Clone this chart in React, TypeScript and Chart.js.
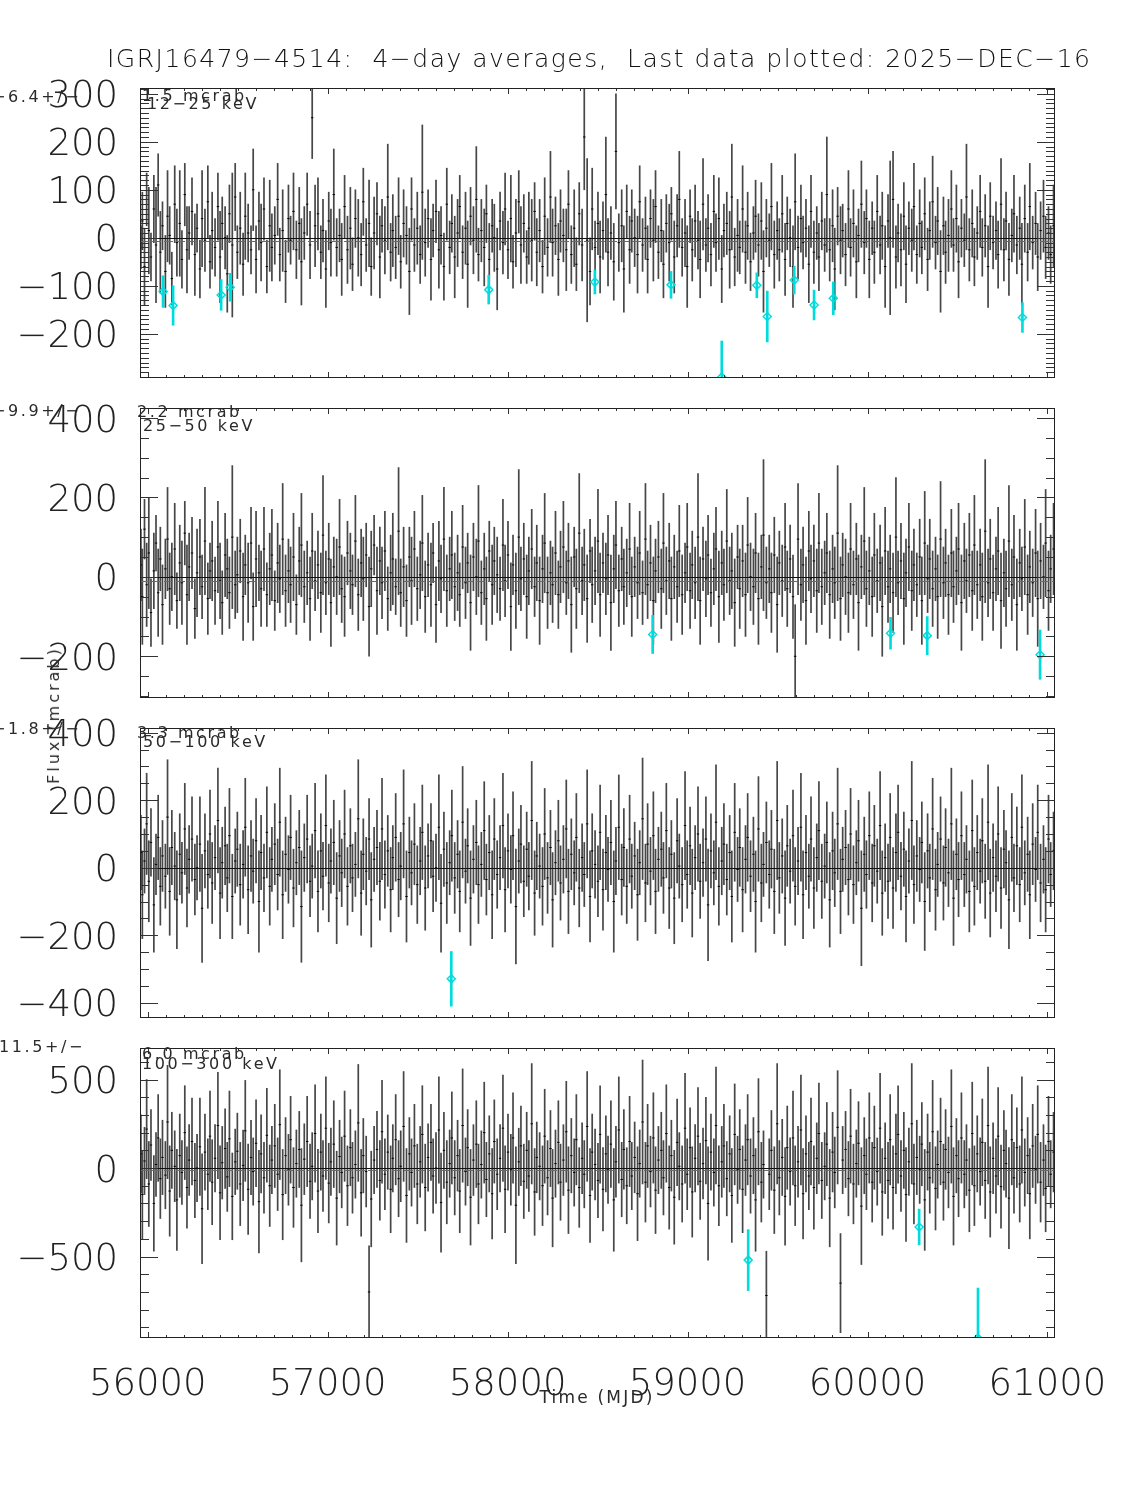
import React, { useEffect, useRef } from "react";
import { Chart, registerables } from "chart.js";

Chart.register(...registerables);

// ---------------- data ----------------
// bin centres (MJD), shared by the four energy bands
const mjd = [
  55962, 55970, 55982, 55994, 56006, 56018, 56034, 56046, 56058, 56070, 56082, 56098, 56110, 56122, 56134, 56150, 56162, 56178, 56190, 56206,
  56218, 56230, 56246, 56262, 56274, 56290, 56302, 56318, 56334, 56346, 56358, 56374, 56390, 56402, 56414, 56430, 56442, 56454, 56470, 56486, 56498,
  56514, 56530, 56542, 56558, 56574, 56586, 56602, 56618, 56630, 56646, 56662, 56678, 56690, 56706, 56722, 56734, 56750, 56766, 56782, 56794,
  56810, 56826, 56842, 56854, 56870, 56886, 56902, 56914, 56930, 56946, 56962, 56974, 56990,
  57006, 57018, 57034, 57050, 57066, 57078, 57094, 57110, 57126, 57138, 57154, 57170, 57186, 57198, 57214, 57230, 57242, 57258, 57274, 57290,
  57302, 57318, 57334, 57350, 57362, 57378, 57394, 57406, 57422, 57438, 57454, 57466, 57482, 57498,
  57514, 57526, 57542, 57558, 57574, 57586, 57602, 57618, 57630, 57646, 57662, 57678, 57690, 57706, 57722, 57734, 57750, 57766, 57778, 57794,
  57810, 57826, 57838, 57854, 57870, 57882, 57898, 57914, 57926, 57942, 57958, 57974, 57986,
  58002, 58018, 58030, 58046, 58062, 58074, 58090, 58106, 58118, 58134, 58150, 58162, 58178, 58194, 58206, 58222, 58238, 58250, 58266, 58282,
  58294, 58310, 58326, 58338, 58354, 58370, 58382, 58398, 58414, 58426, 58442, 58458, 58470, 58486,
  58502, 58514, 58530, 58546, 58558, 58574, 58590, 58602, 58618, 58634, 58646, 58662, 58678, 58690, 58706, 58722, 58734, 58750, 58766, 58778,
  58794, 58810, 58822, 58838, 58854, 58866, 58882, 58898, 58910, 58926, 58942, 58954, 58970, 58986, 58998,
  59014, 59026, 59042, 59058, 59070, 59086, 59102, 59114, 59130, 59146, 59158, 59174, 59190, 59202, 59218, 59234, 59246, 59262, 59278, 59290,
  59306, 59322, 59334, 59350, 59366, 59378, 59394, 59410, 59422, 59438, 59454, 59466, 59482, 59498,
  59510, 59526, 59542, 59554, 59570, 59586, 59598, 59614, 59630, 59642, 59658, 59674, 59686, 59702, 59718, 59730, 59746, 59762, 59774, 59790,
  59806, 59818, 59834, 59850, 59862, 59878, 59894, 59906, 59922, 59938, 59950, 59966, 59982, 59994,
  60010, 60026, 60038, 60054, 60070, 60082, 60098, 60114, 60126, 60142, 60158, 60170, 60186, 60202, 60214, 60230, 60246, 60258, 60274, 60290,
  60302, 60318, 60334, 60346, 60362, 60378, 60390, 60406, 60422, 60434, 60450, 60466, 60478, 60494,
  60506, 60522, 60538, 60550, 60566, 60582, 60594, 60610, 60626, 60638, 60654, 60670, 60682, 60698, 60714, 60726, 60742, 60758, 60770, 60786,
  60802, 60814, 60830, 60846, 60858, 60874, 60890, 60902, 60918, 60934, 60946, 60962, 60978, 60990, 61006, 61018, 61034,
];

// 12-25 keV (mCrab)
const flux12_25 = [
  -20, 35, -60, 80, 15, -40, 60, -15, 110, -30, 25, -70, 45, 5, -85, 70, -10, 30, -45, 90,
  -25, 10, 55, -35, 20, -65, 40, -5, 75, -50, 15, -20, 65, -40, 30, 0, -75, 50, -15, 85,
  -30, 20, -55, 45, 10, -25, 100, -45, 35, -10, 60, -60, 25, -20, 5, 80, -35, 15, -70, 40,
  -5, 55, -25, 30, -50, 10, 70, -15, 250, 25, 50, -30, 15, -65, 35, -10, 90, -20, 5, -45,
  65, -25, 20, -55, 40, 0, -35, 75, -15, 30, -60, 10, 50, -40, 25, -5, 85, -30, 15, -20,
  45, -50, 30, 5, -70, 60, -15, 20, -35, 95, -10, 40, -45, 15, 55, -25, 5, -60, 70, -20,
  30, -40, 10, 65, -30, 20, -55, 45, -5, 80, -35, 15, -20, 50, -45, 25, 0, -65, 35, -10,
  60, -25, 40, -50, 10, 75, -15, 30, -40, 20, -5, 55, -30, 15, -60, 45, -20, 85, -10, 25,
  -45, 35, 5, -25, 70, -35, 20, -55, 50, -15, 210, -5, -70, 60, -20, 30, -40, 15, 90, -30,
  10, -50, 180, -10, 25, -65, 55, -25, 35, 0, -35, 75, -15, 20, -45, 40, -5, 65, -30, 15,
  -55, 30, -10, 50, -40, 25, 80, -20, 10, -60, 45, -25, 35, -5, -45, 70, -15, 20, -35, 55,
  -10, 40, -65, 15, 30, -25, 85, -40, 5, -20, 60, -30, 25, -50, 10, 45, -15, 35, -70, 20,
  -5, 65, -35, 15, -25, 50, -45, 30, 0, -60, 75, -20, 40, -10, 20, -55, 55, -30, 10, -40,
  35, -15, 90, -25, 25, -65, 45, -5, 15, -35, 60, -20, 30, -50, 5, 70, -10, 40, -45, 20,
  -30, 55, -15, 25, -60, 35, 0, 80, -40, 10, -25, 45, -55, 20, -5, 65, -35, 30, -20, 50,
  -45, 15, 75, -10, 35, -70, 25, -30, 5, 60, -15, 40, -50, 20, -5, 85, -25, 30, -40, 10,
  55, -20, 25, -60, 45, -10, 15, -35, 70, -25, 35, -45, 5, 50, -15, 20, -55, 40, -30, 65,
  -10, 30, -40, 15, 45, -20, 10, -35, 25,
];
const err12_25 = [
  45, 60, 80, 55, 90, 50, 70, 120, 65, 85, 50, 75, 95, 60, 55, 80, 70, 110, 60, 65,
  90, 55, 70, 85, 50, 60, 100, 65, 75, 55, 80, 60, 70, 95, 55, 65, 80, 60, 150, 70,
  55, 75, 65, 90, 60, 50, 85, 70, 60, 80, 65, 55, 95, 70, 60, 75, 55, 85, 65, 70,
  50, 80, 60, 75, 90, 55, 65, 70, 85, 85, 75, 55, 65, 80, 60, 70, 95, 60, 55, 75,
  65, 70, 85, 55, 60, 80, 65, 70, 55, 90, 60, 75, 65, 85, 55, 70, 110, 60, 75, 65,
  80, 55, 70, 60, 90, 65, 55, 75, 60, 140, 70, 60, 85, 55, 65, 80, 60, 70, 75, 55,
  60, 85, 70, 65, 55, 75, 90, 60, 70, 110, 55, 65, 80, 60, 75, 55, 70, 85, 60, 65,
  75, 60, 90, 55, 70, 65, 80, 60, 55, 75, 85, 60, 70, 65, 55, 80, 60, 95, 70, 60,
  75, 65, 55, 85, 70, 60, 80, 55, 65, 75, 110, 170, 70, 85, 55, 65, 75, 60, 120, 70,
  55, 80, 120, 60, 75, 90, 55, 70, 65, 60, 80, 75, 55, 65, 70, 60, 85, 75, 55, 65,
  70, 60, 80, 55, 75, 65, 100, 60, 70, 85, 55, 65, 75, 60, 80, 95, 55, 70, 65, 75,
  60, 85, 70, 55, 65, 80, 110, 60, 75, 55, 90, 65, 70, 60, 55, 75, 65, 80, 85, 60,
  55, 90, 70, 60, 65, 80, 75, 55, 60, 85, 100, 65, 70, 55, 60, 80, 75, 65, 55, 70,
  60, 55, 120, 65, 75, 85, 60, 70, 55, 65, 80, 60, 70, 75, 55, 90, 65, 60, 80, 55,
  65, 75, 60, 70, 85, 55, 160, 100, 65, 60, 75, 70, 80, 55, 65, 90, 60, 70, 55, 75,
  65, 60, 95, 55, 70, 85, 60, 65, 75, 80, 55, 70, 75, 60, 55, 110, 65, 70, 60, 55,
  75, 60, 65, 85, 70, 55, 60, 70, 95, 65, 60, 75, 55, 80, 60, 65, 85, 70, 60, 90,
  55, 65, 70, 60, 75, 65, 55, 60, 85,
];

// 25-50 keV (mCrab)
const flux25_50 = [
  30, -50, 120, -20, 60, -90, 15, 85, -40, 45, -70, 20, 95, -30, 0, 70, -60, 35, -15, 110,
  -45, 25, 60, -80, 10, 50, -25, 90, -55, 15, 40, -35, 75, -10, -65, 55, 20, -40, 100, -20,
  5, 65, -50, 30, -15, 85, -75, 45, 10, -30, 70, -45, 20, 55, -60, 35, -5, 95, -35, 15,
  -20, 50, -70, 40, 80, -25, 10, -55, 65, -10, 30, -40, 105, -15, 45, -65, 25, 0, 75, -30,
  -50, 60, 15, -20, 90, -45, 35, -5, 55, -75, 20, 80, -35, 40, -15, 65, -55, 10, 45, -25,
  115, -40, 25, -60, 50, -10, 70, -30, 5, 85, -50, 30, -20, 60, -70, 40, -5, 95, -35, 20,
  55, -25, 10, -45, 75, -15, 35, -65, 50, 0, 90, -40, 20, -55, 65, -20, 40, 5, -30, 80,
  -10, 55, -75, 30, -35, 100, -5, 45, -50, 15, 70, -25, 35, -60, 20, 85, -40, 10, -20, 60,
  -45, 25, 75, -15, 40, -70, 50, -30, 110, -10, 30, -55, 65, -20, 15, 90, -45, 35, -5, 55,
  -65, 20, 80, -35, 45, -25, 10, 70, -50, 25, -15, 60, -40, 95, -20, 35, -60, 15, 50, -30,
  85, -10, 40, -55, 25, -25, 65, -45, 10, 75, -35, 30, -15, 100, -60, 45, -5, 55, -40, 20,
  70, -50, 35, -20, 90, -10, 15, -65, 50, -30, 40, -45, 80, 0, -25, 60, -55, 25, 105, -15,
  20, -40, 55, -70, 35, -10, 75, -30, 45, -50, -200, 95, -20, 30, -60, 65, -5, 40, -35, 85,
  -25, 10, 60, -45, 20, -15, 110, -55, 30, 0, -40, 70, -20, 45, -65, 25, 90, -30, 15, -50,
  55, -10, 35, -75, 65, -25, 20, -40, 100, -15, 40, -55, 10, 75, -35, 30, -20, 50, -60, 85,
  -5, 45, -30, 20, -50, 95, -15, 35, -45, 60, -25, 15, 70, -65, 40, -10, 55, -35, 80, -20,
  30, -50, 115, -15, 45, -40, 20, 65, -60, 10, -30, 90, -20, 50, -70, 35, -5, 75, -45, 25,
  -15, 60, -55, 40, 0, 85, -35, 20, 70,
];
const err25_50 = [
  90, 120, 75, 105, 140, 85, 95, 70, 110, 80, 100, 75, 130, 90, 85, 115, 70, 95, 105, 80,
  125, 85, 90, 75, 110, 95, 80, 135, 90, 70, 100, 85, 115, 95, 80, 105, 75, 90, 180, 85,
  95, 80, 110, 75, 100, 90, 85, 120, 70, 95, 105, 80, 90, 115, 75, 100, 85, 140, 90, 80,
  95, 110, 75, 85, 130, 90, 80, 105, 95, 75, 85, 100, 150, 80, 90, 110, 75, 95, 120, 85,
  100, 80, 95, 75, 115, 90, 85, 105, 80, 125, 95, 75, 110, 85, 90, 100, 80, 95, 115, 70,
  160, 85, 100, 90, 75, 110, 95, 80, 85, 120, 90, 80, 105, 75, 95, 100, 85, 130, 90, 80,
  110, 85, 95, 80, 105, 90, 75, 120, 85, 95, 140, 80, 90, 105, 75, 100, 85, 95, 80, 115,
  90, 85, 110, 75, 95, 170, 80, 90, 105, 85, 100, 75, 95, 110, 85, 125, 90, 80, 95, 105,
  85, 90, 115, 80, 95, 120, 75, 100, 150, 85, 90, 110, 80, 95, 85, 130, 105, 75, 90, 100,
  120, 85, 110, 90, 80, 95, 85, 115, 100, 75, 90, 105, 80, 140, 85, 95, 110, 80, 90, 100,
  125, 85, 95, 105, 80, 90, 115, 100, 75, 110, 95, 85, 90, 160, 110, 80, 95, 100, 85, 90,
  105, 115, 80, 90, 130, 85, 95, 110, 80, 100, 90, 105, 120, 85, 95, 100, 115, 80, 190, 90,
  85, 100, 95, 120, 80, 90, 110, 95, 85, 105, 130, 140, 90, 95, 110, 100, 85, 90, 105, 125,
  95, 80, 100, 110, 85, 90, 170, 105, 80, 95, 100, 115, 85, 90, 120, 80, 135, 95, 85, 100,
  105, 80, 95, 125, 110, 90, 85, 100, 150, 80, 95, 115, 85, 110, 100, 90, 80, 95, 110, 130,
  85, 100, 95, 80, 105, 145, 90, 85, 100, 110, 90, 85, 115, 120, 95, 80, 105, 100, 125, 85,
  90, 110, 180, 85, 100, 95, 80, 110, 120, 85, 95, 140, 90, 105, 115, 85, 80, 120, 100, 90,
  85, 110, 120, 95, 80, 135, 100, 85, 115,
];

// 50-100 keV (mCrab)
const flux50_100 = [
  45, -80, 20, 130, -40, 75, -110, 10, 90, -55, 35, -25, 150, -70, 60, 5, -95, 40, -15, 115,
  -60, 25, 85, -35, 0, 70, -120, 50, -20, 100, -45, 30, 140, -75, 15, 65, -30, 95, -85, 20,
  55, -50, 10, 120, -65, 35, -10, 80, -100, 45, -30, 105, -55, 25, 70, -20, 135, -80, 40, -5,
  90, -60, 15, 60, -115, 30, 85, -40, 5, 110, -70, 50, -25, 125, -45, 20, 75, -90, 35, -15,
  100, -55, 65, -30, 10, 145, -75, 40, -10, 85, -95, 25, 60, -40, 115, -20, 50, -65, 30, 90,
  -35, 5, 130, -85, 45, -15, 70, -50, 20, 105, -60, 35, 80, -25, 0, 120, -105, 55, -45, 15,
  95, -30, 40, -70, 135, -10, 65, -90, 25, 75, -50, 10, 110, -35, 45, -80, 85, -20, 30, 125,
  -65, 50, -5, 95, -115, 20, 70, -40, 55, -25, 140, -75, 35, 5, -55, 100, -30, 60, -95, 15,
  80, -45, 25, 115, -70, 40, -15, 90, -60, 30, -20, 130, -85, 50, 10, -40, 105, -65, 45, -5,
  75, -100, 20, 120, -35, 60, -55, 85, -25, 35, -80, 15, 145, -45, 70, -10, 95, -70, 25, 55,
  -30, 110, -60, 40, -90, 80, 5, -50, 125, -20, 65, -75, 30, 100, -40, 15, 85, -110, 50, -15,
  135, -55, 20, 70, -35, 45, -85, 105, -5, 60, -65, 25, 90, -25, 40, -100, 115, -45, 10, 75,
  -20, 55, -70, 140, -30, 35, -90, 65, -10, 95, -55, 20, 120, -80, 45, -25, 85, -60, 30, 110,
  -40, 5, 75, -95, 50, -15, 130, -70, 25, 60, -35, 100, -50, 15, 80, -120, 40, -20, 95, -45,
  65, -10, 125, -75, 30, -40, 90, -60, 45, 105, -25, 55, -85, 20, 140, -50, 35, -5, 75, -100,
  50, -30, 115, -65, 10, 85, -45, 60, -15, 130, -90, 40, -35, 95, -20, 25, -70, 110, -55, 45,
  -10, 80, -40, 135, -75, 30, -25, 100, -60, 55, 15, -95, 90, -30, 65, -50, 120, -15, 40, -80,
  70, -5, 105, -45, 25, -65, 85, -20, 50,
];
const err50_100 = [
  110, 130, 95, 150, 120, 100, 140, 90, 125, 115, 105, 95, 170, 130, 110, 100, 145, 120, 90, 135,
  115, 100, 125, 105, 95, 140, 160, 110, 100, 130, 120, 95, 155, 135, 105, 115, 100, 140, 125, 95,
  110, 120, 100, 145, 130, 105, 95, 125, 150, 110, 100, 135, 115, 95, 120, 105, 160, 130, 110, 100,
  125, 115, 95, 110, 165, 100, 130, 105, 95, 140, 120, 110, 100, 150, 115, 95, 125, 135, 105, 100,
  130, 115, 110, 100, 95, 175, 125, 105, 100, 120, 140, 95, 110, 115, 150, 100, 105, 125, 95, 130,
  110, 100, 160, 135, 105, 95, 120, 115, 100, 140, 125, 95, 110, 105, 100, 155, 145, 110, 120, 95,
  135, 105, 100, 120, 165, 95, 110, 140, 100, 125, 115, 95, 145, 105, 110, 130, 120, 100, 95, 155,
  125, 110, 100, 130, 170, 95, 115, 105, 110, 100, 175, 125, 100, 95, 115, 135, 105, 110, 140, 95,
  120, 110, 100, 145, 125, 105, 95, 130, 115, 100, 95, 160, 135, 110, 100, 105, 140, 120, 110, 95,
  125, 150, 100, 155, 105, 115, 110, 130, 95, 100, 135, 95, 180, 115, 120, 100, 130, 125, 95, 110,
  105, 140, 120, 100, 135, 125, 95, 110, 160, 100, 115, 130, 95, 140, 110, 100, 125, 165, 110, 95,
  170, 115, 100, 120, 105, 110, 135, 145, 95, 115, 125, 100, 130, 105, 110, 150, 155, 115, 95, 120,
  100, 115, 125, 175, 105, 110, 140, 120, 95, 135, 115, 100, 160, 130, 110, 95, 125, 120, 100, 145,
  110, 95, 120, 140, 115, 100, 165, 125, 95, 110, 105, 135, 115, 95, 120, 170, 110, 100, 130, 115,
  120, 95, 160, 125, 100, 110, 130, 120, 115, 140, 100, 110, 135, 95, 175, 115, 105, 95, 120, 145,
  110, 100, 150, 120, 95, 125, 110, 115, 100, 165, 140, 105, 110, 130, 95, 100, 120, 150, 115, 110,
  95, 125, 110, 170, 130, 100, 105, 140, 120, 115, 95, 145, 130, 100, 115, 110, 155, 95, 110, 130,
  120, 95, 140, 115, 100, 125, 130, 95, 115,
];

// 100-300 keV (mCrab)
const flux100_300 = [
  80, -150, 40, 220, -90, 130, -200, 20, 170, -60, 60, -40, 260, -130, 100, 10, -180, 70, -25, 200,
  -110, 45, 150, -70, 0, 120, -230, 90, -35, 180, -80, 55, 240, -140, 30, 110, -50, 165, -160, 35,
  95, -90, 15, 210, -120, 60, -20, 140, -190, 80, -55, 185, -100, 45, 125, -35, 245, -150, 70, -10,
  160, -110, 25, 105, -210, 50, 150, -75, 10, 195, -130, 90, -45, 225, -85, 35, 135, -170, 65, -25,
  180, -100, 115, -55, 20, 255, -140, 70, -20, -700, -175, 45, 105, -70, 205, -35, 90, -120, 55, 160,
  -60, 10, 235, -155, 80, -25, 125, -90, 35, 190, -110, 60, 145, -45, 0, 215, -195, 100, -80, 25,
  170, -55, 70, -130, 240, -20, 115, -165, 45, 135, -90, 20, 200, -65, 80, -145, 150, -35, 55, 225,
  -120, 90, -10, 170, -210, 35, 125, -75, 100, -45, 250, -135, 60, 10, -100, 180, -55, 110, -170, 25,
  145, -80, 45, 205, -125, 70, -25, 160, -110, 55, -35, 235, -155, 90, 20, -70, 190, -120, 80, -10,
  135, -180, 35, 215, -65, 105, -100, 150, -45, 60, -145, 25, 260, -80, 125, -20, 170, -125, 45, 100,
  -55, 195, -110, 70, -165, 145, 10, -90, 225, -35, 115, -135, 55, 180, -75, 25, 155, -200, 90, -25,
  240, -100, 35, 125, -60, 80, -155, 190, -10, 105, -120, 45, 160, -45, 70, -180, 205, -80, 20, -720,
  -35, 100, -125, 250, -55, 60, -160, 115, -20, 170, -100, 35, 215, -145, 80, -45, 150, -110, 55, 195,
  -70, 10, 135, -170, 90, -25, 230, -650, 45, 105, -60, 180, -90, 25, 140, -215, 70, -35, 170, -80,
  115, -20, 225, -135, 55, -70, 160, -110, 80, 190, -45, 100, -150, 35, 250, -90, 60, -10, 135, -180,
  90, -55, 205, -115, 20, 150, -80, 105, -25, 235, -160, 70, -60, 170, -35, 45, -125, 195, -100, 80,
  -20, 145, -70, 240, -135, 55, -45, 180, -105, 100, 25, -170, 160, -55, 115, -90, 215, -25, 70, -145,
  125, -10, 190, -80, 45, -115, 150, -35, 90,
];
const err100_300 = [
  220, 250, 190, 280, 240, 200, 270, 180, 245, 225, 210, 190, 320, 255, 215, 200, 285, 235, 180, 265,
  230, 200, 245, 210, 190, 275, 310, 215, 200, 255, 240, 190, 300, 265, 205, 225, 195, 270, 245, 185,
  215, 235, 200, 285, 255, 210, 190, 245, 290, 220, 200, 265, 230, 190, 235, 205, 310, 255, 215, 200,
  245, 225, 190, 215, 320, 200, 255, 210, 190, 275, 235, 215, 200, 290, 225, 190, 245, 265, 205, 200,
  255, 225, 215, 200, 190, 330, 245, 210, 200, 260, 270, 190, 215, 225, 290, 200, 210, 245, 190, 255,
  215, 200, 310, 265, 205, 190, 235, 225, 200, 275, 245, 190, 215, 210, 200, 300, 280, 215, 235, 190,
  260, 210, 200, 235, 320, 190, 215, 270, 200, 245, 225, 190, 285, 210, 215, 255, 235, 200, 190, 300,
  245, 215, 200, 255, 330, 190, 225, 210, 215, 200, 340, 245, 200, 190, 225, 265, 210, 215, 275, 190,
  235, 215, 200, 285, 245, 210, 190, 255, 225, 200, 190, 310, 265, 215, 200, 210, 275, 235, 215, 190,
  245, 290, 200, 300, 210, 225, 215, 255, 190, 200, 265, 190, 350, 225, 235, 200, 255, 245, 190, 215,
  210, 275, 235, 200, 265, 245, 190, 215, 310, 200, 225, 255, 190, 275, 215, 200, 245, 320, 215, 190,
  330, 225, 200, 235, 210, 215, 265, 285, 190, 225, 245, 200, 255, 210, 215, 290, 300, 225, 190, 250,
  200, 225, 245, 340, 210, 215, 275, 235, 190, 265, 225, 200, 310, 255, 215, 190, 245, 235, 200, 285,
  215, 190, 235, 275, 225, 200, 320, 280, 190, 215, 210, 265, 225, 190, 235, 330, 215, 200, 255, 225,
  235, 190, 310, 245, 200, 215, 255, 235, 225, 275, 200, 215, 265, 190, 340, 225, 210, 190, 235, 285,
  215, 200, 290, 235, 190, 245, 215, 225, 200, 320, 275, 210, 215, 255, 190, 200, 235, 290, 225, 215,
  190, 245, 215, 330, 255, 200, 210, 275, 235, 225, 190, 285, 255, 200, 225, 215, 300, 190, 215, 255,
  235, 190, 275, 225, 200, 245, 255, 190, 225,
];

// low-significance bins highlighted in cyan
const flagMjd12_25 = [56085, 56141, 56408, 56458, 57895, 58485, 58908, 59190, 59385, 59443, 59593, 59703, 59810, 60861];
const flagFlux12_25 = [-112, -141, -119, -103, -108, -92, -98, -290, -99, -164, -88, -140, -126, -166];
const flagErr12_25 = [33, 41, 32, 29, 30, 25, 28, 75, 26, 53, 29, 31, 34, 31];
const flagMjd25_50 = [58806, 60128, 60332, 60959];
const flagFlux25_50 = [-145, -142, -148, -196];
const flagErr25_50 = [48, 40, 48, 62];
const flagMjd50_100 = [57687];
const flagFlux50_100 = [-329];
const flagErr50_100 = [81];
const flagMjd100_300 = [59337, 60287, 60614];
const flagFlux100_300 = [-520, -333, -960];
const flagErr100_300 = [172, 101, 282];

const titleText = "IGRJ16479\u22124514:  4\u2212day averages,  Last data plotted: 2025\u2212DEC\u221216";
const bandLabels = ["12\u221225 keV", "25\u221250 keV", "50\u2212100 keV", "100\u2212300 keV"];
const meanFlux = [-6.4, -9.9, -1.8, -11.5];
const meanErr = [1.5, 2.2, 3.3, 6.0];
const xTickValues = [56000, 57000, 58000, 59000, 60000, 61000];
const yTickValues = [
  [-200, -100, 0, 100, 200, 300],
  [-200, 0, 200, 400],
  [-400, -200, 0, 200, 400],
  [-500, 0, 500],
];
const yMinorSteps = [10, 50, 50, 100];
const yRanges = [[-292, 312], [-305, 425], [-445, 414], [-960, 678]];
const xRange = [55957, 61042];
const xMinorStep = 100;

const series = [
  { flux: flux12_25, err: err12_25, fMjd: flagMjd12_25, fFlux: flagFlux12_25, fErr: flagErr12_25 },
  { flux: flux25_50, err: err25_50, fMjd: flagMjd25_50, fFlux: flagFlux25_50, fErr: flagErr25_50 },
  { flux: flux50_100, err: err50_100, fMjd: flagMjd50_100, fFlux: flagFlux50_100, fErr: flagErr50_100 },
  { flux: flux100_300, err: err100_300, fMjd: flagMjd100_300, fFlux: flagFlux100_300, fErr: flagErr100_300 },
];

// ---------------- layout ----------------
const FRAME_TOPS = [88, 408, 728, 1048];
const FRAME_H = 290;
const PAD_TOP = 30;
const PAD_RIGHT = 70;
const Y_AXIS_W = 140;
const FONT = "'DejaVu Sans', 'Liberation Sans', sans-serif";
const TEXT_COLOR = "#111";
const SMALL_TEXT_COLOR = "#2a2a2a";
const TICK_COLOR = "#222";
const CYAN = "#00dcdc";

const minus = (v: number, digits = 0) =>
  (v < 0 ? "\u2212" : "") + Math.abs(v).toFixed(digits);

function makeFramePlugin(i: number) {
  return {
    id: "frame" + i,
    afterDatasetsDraw(chart: any) {
      const { ctx, chartArea: a } = chart;
      const xs = chart.scales.x;
      const ys = chart.scales.y;
      ctx.save();
      ctx.lineWidth = 1;
      // mean level (dashed)
      ctx.strokeStyle = "#6a6a6a";
      ctx.setLineDash([9, 3]);
      const ym = Math.round(ys.getPixelForValue(meanFlux[i])) + 0.5;
      ctx.beginPath();
      ctx.moveTo(a.left, ym);
      ctx.lineTo(a.right, ym);
      ctx.stroke();
      ctx.setLineDash([]);
      // zero level
      ctx.strokeStyle = "#111";
      const y0 = Math.round(ys.getPixelForValue(0)) + 0.5;
      ctx.beginPath();
      ctx.moveTo(a.left, y0);
      ctx.lineTo(a.right, y0);
      ctx.stroke();
      // y ticks on both sides
      ctx.strokeStyle = "#333";
      ctx.beginPath();
      const st = yMinorSteps[i];
      for (let v = Math.ceil(yRanges[i][0] / st) * st; v <= yRanges[i][1]; v += st) {
        const p = Math.round(ys.getPixelForValue(v)) + 0.5;
        const len = yTickValues[i].includes(v) ? 18 : 9;
        ctx.moveTo(a.left, p);
        ctx.lineTo(a.left + len, p);
        ctx.moveTo(a.right, p);
        ctx.lineTo(a.right - len, p);
      }
      for (let v = Math.ceil(xRange[0] / xMinorStep) * xMinorStep; v <= xRange[1]; v += xMinorStep) {
        const p = Math.round(xs.getPixelForValue(v)) + 0.5;
        const len = xTickValues.includes(v) ? 6 : 3;
        ctx.moveTo(p, a.bottom);
        ctx.lineTo(p, a.bottom - len);
        ctx.moveTo(p, a.top);
        ctx.lineTo(p, a.top + len);
      }
      ctx.stroke();
      // frame
      ctx.strokeStyle = "#222";
      ctx.strokeRect(a.left + 0.5, a.top + 0.5, a.right - a.left - 1, a.bottom - a.top - 1);
      ctx.restore();
    },
  };
}

function Panel({ idx }: { idx: number }) {
  const ref = useRef<HTMLCanvasElement>(null);
  const isLast = idx === 3;
  const xH = isLast ? 100 : 15;
  const height = PAD_TOP + FRAME_H + xH;

  useEffect(() => {
    const s = series[idx];
    const n = Math.min(mjd.length, s.flux.length, s.err.length);
    const bars: any[] = [];
    const centres: any[] = [];
    for (let k = 0; k < n; k++) {
      bars.push({ x: mjd[k], y: [s.flux[k] - s.err[k], s.flux[k] + s.err[k]] });
      centres.push({ x: mjd[k], y: s.flux[k] });
    }
    const fBars = s.fMjd.map((t, k) => ({ x: t, y: [s.fFlux[k] - s.fErr[k], s.fFlux[k] + s.fErr[k]] }));
    const fPts = s.fMjd.map((t, k) => ({ x: t, y: s.fFlux[k] }));

    const tickFont = { family: FONT, size: 37, weight: "200" as any };
    const chart = new Chart(ref.current as HTMLCanvasElement, {
      type: "bar",
      data: {
        datasets: [
          {
            type: "scatter",
            data: fPts,
            pointStyle: "rectRot",
            pointRadius: 4,
            borderColor: CYAN,
            backgroundColor: "rgba(0,0,0,0)",
            borderWidth: 1.5,
          } as any,
          {
            type: "bar",
            data: fBars,
            backgroundColor: CYAN,
            barThickness: 2,
            grouped: false,
            borderWidth: 0,
          } as any,
          {
            type: "scatter",
            data: centres,
            pointStyle: "line",
            pointRadius: 1.2,
            borderColor: "#000",
            borderWidth: 1,
          } as any,
          {
            type: "bar",
            data: bars,
            backgroundColor: "rgba(0,0,0,0.72)",
            barThickness: 1.05,
            grouped: false,
            borderWidth: 0,
          } as any,
        ],
      },
      options: {
        animation: false,
        responsive: false,
        devicePixelRatio: 1,
        events: [],
        layout: { padding: { top: PAD_TOP, right: PAD_RIGHT, left: 0, bottom: 0 } },
        plugins: { legend: { display: false }, tooltip: { enabled: false } },
        scales: {
          x: {
            type: "linear",
            min: xRange[0],
            max: xRange[1],
            offset: false,
            grid: { display: false },
            border: { display: false },
            afterBuildTicks: (sc: any) => {
              sc.ticks = xTickValues.map((v) => ({ value: v }));
            },
            afterFit: (sc: any) => {
              sc.height = xH;
              sc.paddingLeft = 0;
              sc.paddingRight = 0;
            },
            ticks: {
              display: isLast,
              autoSkip: false,
              maxRotation: 0,
              minRotation: 0,
              padding: 17,
              color: TICK_COLOR,
              font: tickFont,
              callback: (v: any) => String(v),
            },
          },
          y: {
            type: "linear",
            min: yRanges[idx][0],
            max: yRanges[idx][1],
            grid: { display: false },
            border: { display: false },
            afterBuildTicks: (sc: any) => {
              sc.ticks = yTickValues[idx].map((v) => ({ value: v }));
            },
            afterFit: (sc: any) => {
              sc.width = Y_AXIS_W;
              sc.paddingTop = 0;
              sc.paddingBottom = 0;
            },
            ticks: {
              autoSkip: false,
              padding: 14,
              labelOffset: 4,
              color: TICK_COLOR,
              font: tickFont,
              callback: (v: any) => minus(Number(v)),
            },
          },
        } as any,
      } as any,
      plugins: [makeFramePlugin(idx)],
    });
    return () => chart.destroy();
  }, [idx]);

  return (
    <canvas
      ref={ref}
      width={1125}
      height={height}
      style={{ position: "absolute", left: 0, top: FRAME_TOPS[idx] - PAD_TOP, width: 1125, height }}
    />
  );
}

function Txt(props: { x: number; base: number; size: number; spacing: number; text: string; weight?: number; color?: string }) {
  const { x, base, size, spacing, text, weight = 200, color = TEXT_COLOR } = props;
  return (
    <div
      style={{
        position: "absolute",
        left: x,
        top: base - 0.846 * size,
        fontSize: size,
        lineHeight: `${size}px`,
        letterSpacing: spacing,
        whiteSpace: "pre",
        color,
        fontFamily: FONT,
        fontWeight: weight,
      }}
    >
      {text}
    </div>
  );
}

const meanTextX = [-8, -8, -8, -17];
const meanTextBase = [103, 417, 735, 1053];
const errTextX = [142, 137, 137, 142];
const errTextBase = [102, 418, 739, 1060];
const bandTextX = [147, 143, 143, 142];
const bandTextBase = [110, 432, 748, 1070];

export default function App() {
  return (
    <div
      style={{
        position: "absolute",
        left: 0,
        top: 0,
        width: 1125,
        height: 1500,
        background: "#fff",
        overflow: "hidden",
      }}
    >
      {[0, 1, 2, 3].map((i) => (
        <Panel key={i} idx={i} />
      ))}
      <Txt x={107} base={67} size={25} spacing={1.5} text={titleText} />
      {[0, 1, 2, 3].map((i) => (
        <React.Fragment key={"t" + i}>
          <Txt x={meanTextX[i]} base={meanTextBase[i]} size={16} spacing={2.6} weight={400} color={SMALL_TEXT_COLOR} text={minus(meanFlux[i], 1) + "+/\u2212"} />
          <Txt x={errTextX[i]} base={errTextBase[i]} size={16} spacing={2.6} weight={400} color={SMALL_TEXT_COLOR} text={meanErr[i].toFixed(1) + " mcrab"} />
          <Txt x={bandTextX[i]} base={bandTextBase[i]} size={16} spacing={2.6} weight={400} color={SMALL_TEXT_COLOR} text={bandLabels[i]} />
        </React.Fragment>
      ))}
      <div
        style={{
          position: "absolute",
          left: 54,
          top: 715,
          transform: "translate(-50%, -50%) rotate(-90deg)",
          fontSize: 16,
          lineHeight: "16px",
          letterSpacing: 3,
          whiteSpace: "pre",
          color: SMALL_TEXT_COLOR,
          fontFamily: FONT,
          fontWeight: 400,
        }}
      >
        Flux (mcrab)
      </div>
      <div
        style={{
          position: "absolute",
          left: 597,
          top: 1403 - 0.846 * 17,
          transform: "translateX(-50%)",
          fontSize: 17,
          lineHeight: "17px",
          letterSpacing: 2.2,
          whiteSpace: "pre",
          color: SMALL_TEXT_COLOR,
          fontFamily: FONT,
          fontWeight: 400,
        }}
      >
        Time (MJD)
      </div>
    </div>
  );
}
